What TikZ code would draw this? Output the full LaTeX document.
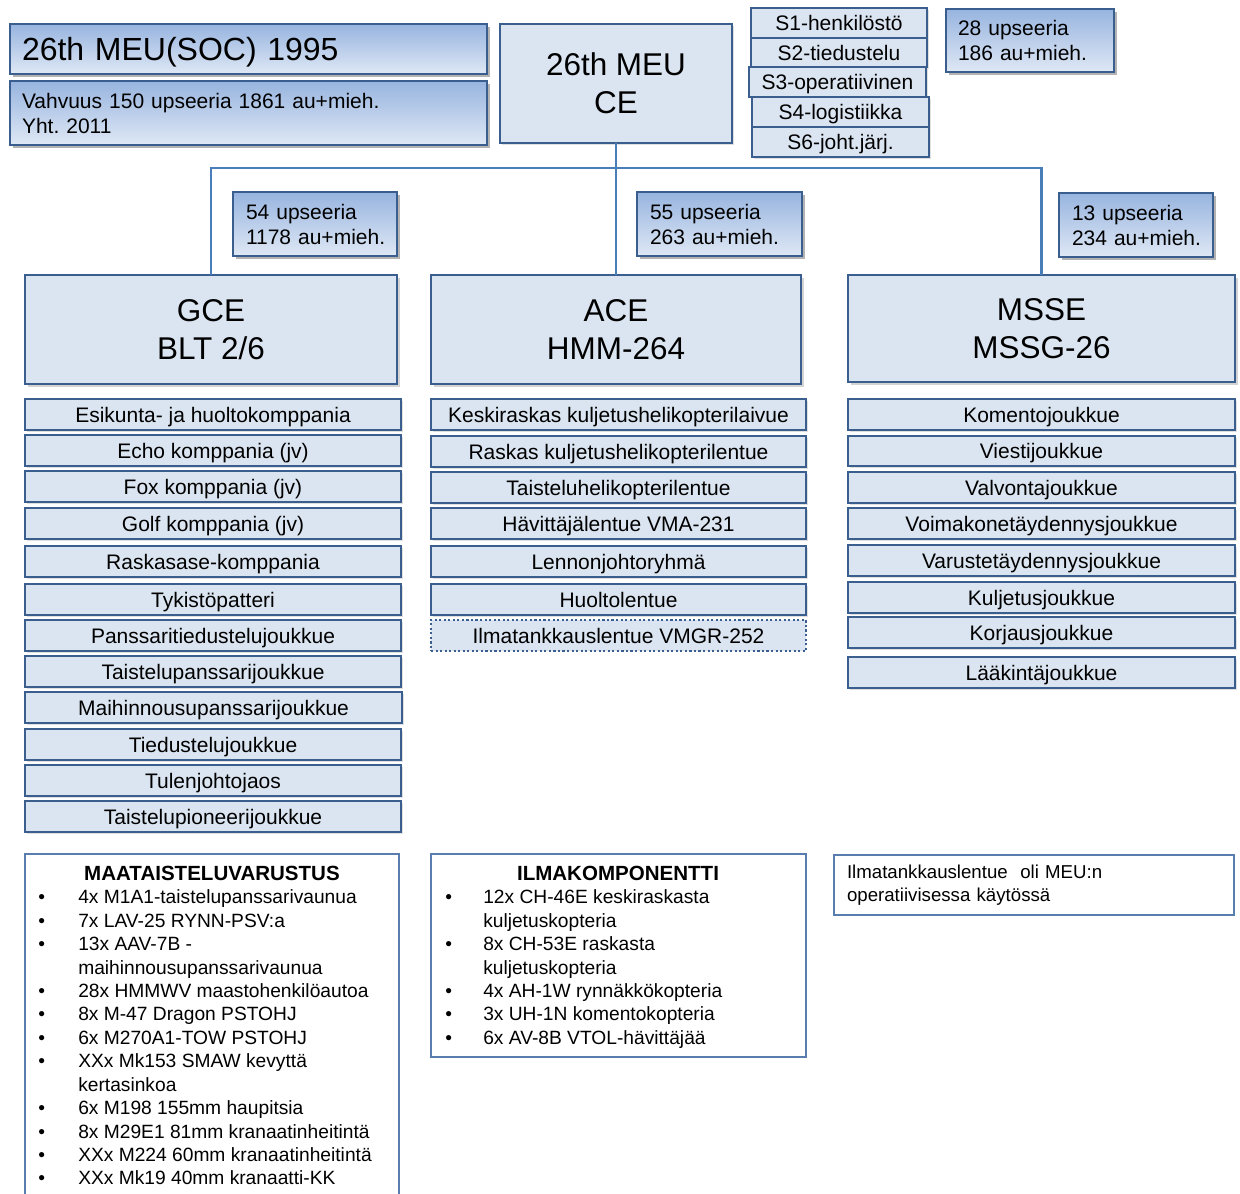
\documentclass[tikz,border=0pt]{standalone}
\usepackage{fontspec}
\setmainfont{Liberation Sans}
\usetikzlibrary{shadows}
\frenchspacing
\definecolor{bord}{HTML}{3A5F8E}
\definecolor{lfill}{HTML}{DBE5F1}
\definecolor{gtop}{HTML}{97B4DF}
\definecolor{gbot}{HTML}{DFE8F5}
\definecolor{lineblue}{HTML}{4A7EBB}
\definecolor{thinblue}{HTML}{5A7DB0}
\newcommand\pbox[7][]{\node[#1, minimum width={(#5-#3)*0.75pt}, minimum height={(#6-#4)*0.75pt}] (#2) at ({(#3+#5)/2},{(#4+#6)/2}) {#7};}
\tikzset{
  base/.style={inner sep=0pt, outer sep=0pt},
  flat/.style={base, draw=bord, line width=2.2pt, fill=lfill,
    drop shadow={shadow xshift=1.2pt, shadow yshift=-1.2pt, opacity=0.25}},
  bigbox/.style={base, draw=bord, line width=2.2pt, fill=lfill,
    drop shadow={shadow xshift=2.5pt, shadow yshift=-2.5pt, opacity=0.35}},
  grad/.style={base, draw=bord, line width=1.8pt, top color=gtop, bottom color=gbot,
    drop shadow={shadow xshift=2.5pt, shadow yshift=-2.5pt, opacity=0.6}},
  dotbox/.style={base, draw=bord, line width=1.6pt, fill=lfill, dash pattern=on 1.6pt off 1.8pt},
  plainbox/.style={base, draw=thinblue, line width=1.1pt, fill=white},
  one/.style={font=\fontsize{15.75pt}{18.75pt}\selectfont, text height=11.3pt, text depth=0pt},
  two/.style={font=\fontsize{15.75pt}{18.75pt}\selectfont, align=left},
  bigtxt/.style={font=\fontsize{23.6pt}{28.5pt}\selectfont, align=center},
  li/.style={anchor=west, inner sep=0pt, font=\fontsize{14.4pt}{17.6pt}\selectfont, text height=10.3pt, text depth=0pt},
  ttl/.style={inner sep=0pt, font=\bfseries\fontsize{15.4pt}{18pt}\selectfont, text height=11pt, text depth=0pt},
  link/.style={draw=lineblue, line width=2.2pt},
}
\begin{document}
\begin{tikzpicture}[x=0.75pt, y=-0.75pt]
\useasboundingbox (0,0) rectangle (1240,1194);
\clip (0,0) rectangle (1240,1194);

% top left boxes
\pbox[grad, font=\fontsize{24pt}{28pt}\selectfont, text height=17.2pt, text depth=0pt, text width=339.75pt, align=left]{title}{10}{24}{487}{74}{\mbox{26th MEU(SOC) 1995}}
\pbox[grad, two, text width=339.75pt]{strength}{10}{81}{487}{145}{\mbox{Vahvuus 150 upseeria 1861 au+mieh.}\\\mbox{Yht. 2011}}

% command element
\pbox[flat, bigtxt]{ce}{500}{24}{732}{143}{26th MEU\\CE}

% staff
\pbox[flat, one]{s1}{751}{8}{927}{38}{S1-henkilöstö}
\pbox[flat, one]{s2}{751}{38}{927}{67}{S2-tiedustelu}
\pbox[flat, one]{s3}{749}{67}{926}{97}{S3-operatiivinen}
\pbox[flat, one]{s4}{752}{97}{929}{127}{S4-logistiikka}
\pbox[flat, one]{s6}{752}{127}{929}{157}{S6-joht.järj.}

\pbox[grad, two, text width=108pt]{c28}{946}{9}{1114}{72}{\mbox{28 upseeria}\\\mbox{186 au+mieh.}}

% strength boxes
\pbox[grad, two, text width=103.5pt]{c54}{233}{192}{397}{256}{\mbox{54 upseeria}\\\mbox{1178 au+mieh.}}
\pbox[grad, two, text width=104.25pt]{c55}{637}{192}{802}{256}{\mbox{55 upseeria}\\\mbox{263 au+mieh.}}
\pbox[grad, two, text width=96pt]{c13}{1059}{193}{1213}{257}{\mbox{13 upseeria}\\\mbox{234 au+mieh.}}

% main elements
\pbox[bigbox, bigtxt]{gce}{25}{275}{397}{384}{GCE\\BLT 2/6}
\pbox[bigbox, bigtxt]{ace}{431}{275}{801}{384}{ACE\\HMM-264}
\pbox[bigbox, bigtxt]{msse}{848}{275}{1235}{382}{MSSE\\MSSG-26}

% connectors
\coordinate (j) at (616,168);
\draw[link] (ce.south) -- (ace.north);
\draw[link] (gce.north) -- (gce.north |- j) -- (msse.north |- j) -- (msse.north);

% GCE units
\pbox[flat, one]{gu1}{25}{399}{401}{430}{Esikunta- ja huoltokomppania}
\pbox[flat, one]{gu2}{25}{435}{401}{466}{Echo komppania (jv)}
\pbox[flat, one]{gu3}{25}{471}{401}{502}{Fox komppania (jv)}
\pbox[flat, one]{gu4}{25}{508}{401}{539}{Golf komppania (jv)}
\pbox[flat, one]{gu5}{25}{546}{401}{577}{Raskasase-komppania}
\pbox[flat, one]{gu6}{25}{584}{401}{615}{Tykistöpatteri}
\pbox[flat, one]{gu7}{25}{620}{401}{651}{Panssaritiedustelujoukkue}
\pbox[flat, one]{gu8}{25}{656}{401}{687}{Taistelupanssarijoukkue}
\pbox[flat, one]{gu9}{25}{692}{402}{723}{Maihinnousupanssarijoukkue}
\pbox[flat, one]{gu10}{25}{729}{401}{760}{Tiedustelujoukkue}
\pbox[flat, one]{gu11}{25}{765}{401}{796}{Tulenjohtojaos}
\pbox[flat, one]{gu12}{25}{801}{401}{832}{Taistelupioneerijoukkue}

% ACE units
\pbox[flat, one]{au1}{431}{399}{806}{430}{Keskiraskas kuljetushelikopterilaivue}
\pbox[flat, one]{au2}{431}{436}{806}{467}{Raskas kuljetushelikopterilentue}
\pbox[flat, one]{au3}{431}{472}{806}{503}{Taisteluhelikopterilentue}
\pbox[flat, one]{au4}{431}{508}{806}{539}{Hävittäjälentue VMA-231}
\pbox[flat, one]{au5}{431}{546}{806}{577}{Lennonjohtoryhmä}
\pbox[flat, one]{au6}{431}{584}{806}{615}{Huoltolentue}
\pbox[dotbox, one]{au7}{431}{620}{806}{651}{Ilmatankkauslentue VMGR-252}

% MSSE units
\pbox[flat, one]{mu1}{848}{399}{1235}{430}{Komentojoukkue}
\pbox[flat, one]{mu2}{848}{436}{1235}{466}{Viestijoukkue}
\pbox[flat, one]{mu3}{848}{472}{1235}{503}{Valvontajoukkue}
\pbox[flat, one]{mu4}{848}{508}{1235}{539}{Voimakonetäydennysjoukkue}
\pbox[flat, one]{mu5}{848}{545}{1235}{576}{Varustetäydennysjoukkue}
\pbox[flat, one]{mu6}{848}{582}{1235}{613}{Kuljetusjoukkue}
\pbox[flat, one]{mu7}{848}{617}{1235}{648}{Korjausjoukkue}
\pbox[flat, one]{mu8}{848}{657}{1235}{688}{Lääkintäjoukkue}

% bottom boxes
\pbox[plainbox]{maa}{25}{854}{399}{1215}{}
\pbox[plainbox]{ilma}{431}{854}{806}{1057}{}
\pbox[plainbox, font=\fontsize{14pt}{17.25pt}\selectfont, align=left, text width=280.5pt]{note}{834}{855}{1234}{915}{\mbox{Ilmatankkauslentue\ \ oli MEU:n}\\\mbox{operatiivisessa käytössä}}

\node[ttl] (maat) at (212,873) {MAATAISTELUVARUSTUS};
\foreach \k/\b/\t [count=\i] in {
  0/1/{4x M1A1-taistelupanssarivaunua},
  1/1/{7x LAV-25 RYNN-PSV:a},
  2/1/{13x AAV-7B -},
  3/0/{maihinnousupanssarivaunua},
  4/1/{28x HMMWV maastohenkilöautoa},
  5/1/{8x M-47 Dragon PSTOHJ},
  6/1/{6x M270A1-TOW PSTOHJ},
  7/1/{XXx Mk153 SMAW kevyttä},
  8/0/{kertasinkoa},
  9/1/{6x M198 155mm haupitsia},
  10/1/{8x M29E1 81mm kranaatinheitintä},
  11/1/{XXx M224 60mm kranaatinheitintä},
  12/1/{XXx Mk19 40mm kranaatti-KK}}{
  \node[li] (ml\i) at (78,{897+23.42*\k}) {\t};
  \ifnum\b=1 \node[li] (mb\i) at (38,{897+23.42*\k}) {•}; \fi
}

\node[ttl] (ilmat) at (618,873) {ILMAKOMPONENTTI};
\foreach \k/\b/\t [count=\i] in {
  0/1/{12x CH-46E keskiraskasta},
  1/0/{kuljetuskopteria},
  2/1/{8x CH-53E raskasta},
  3/0/{kuljetuskopteria},
  4/1/{4x AH-1W rynnäkkökopteria},
  5/1/{3x UH-1N komentokopteria},
  6/1/{6x AV-8B VTOL-hävittäjää}}{
  \node[li] (il\i) at (483,{897+23.42*\k}) {\t};
  \ifnum\b=1 \node[li] (ib\i) at (445,{897+23.42*\k}) {•}; \fi
}
\end{tikzpicture}
\end{document}
